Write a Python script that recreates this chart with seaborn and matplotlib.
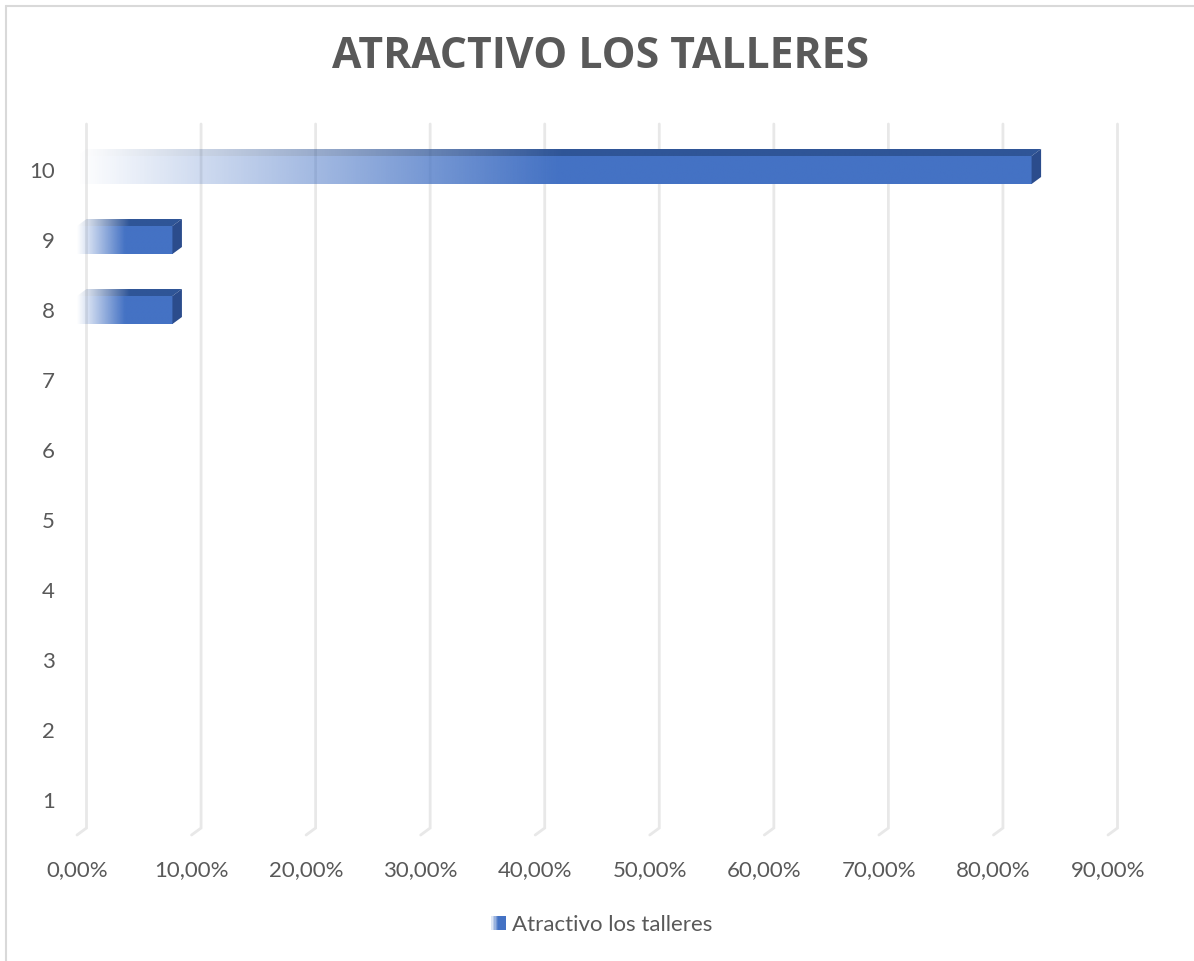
import numpy as np
import pandas as pd
import matplotlib
matplotlib.use("Agg")
import matplotlib.pyplot as plt
import seaborn as sns
from matplotlib.patches import Polygon, Rectangle
from matplotlib.lines import Line2D
from matplotlib.legend_handler import HandlerBase
from matplotlib.colors import to_rgb

# ---- data -------------------------------------------------------------
categories = ["10", "9", "8", "7", "6", "5", "4", "3", "2", "1"]
shares = [0.8333, 0.0833, 0.0833, 0.0, 0.0, 0.0, 0.0, 0.0, 0.0, 0.0]
tick_values = [0.0, 0.1, 0.2, 0.3, 0.4, 0.5, 0.6, 0.7, 0.8, 0.9]
tick_labels = ["0,00%", "10,00%", "20,00%", "30,00%", "40,00%",
               "50,00%", "60,00%", "70,00%", "80,00%", "90,00%"]
title_text = "ATRACTIVO LOS TALLERES"
series_name = "Atractivo los talleres"

# ---- style ------------------------------------------------------------
FRONT = "#4472C4"
TOP = "#2F5597"
SIDE = "#2B4C8C"
GRID = "#E8E8E8"
TEXT = "#595959"

sns.set_theme(style="white")
plt.rcParams["font.family"] = ["Lato", "DejaVu Sans"]

W, H = 1194, 961
fig = plt.figure(figsize=(W / 100, H / 100), dpi=100)
fig.patch.set_facecolor("white")

# plot area (front plane of the 3-D box)
left_px, right_px, top_px, bottom_px = 77, 1108, 135, 835
ax = fig.add_axes([left_px / W, 1 - bottom_px / H,
                   (right_px - left_px) / W, (bottom_px - top_px) / H])

df = pd.DataFrame({"categoria": categories, "porcentaje": shares})
sns.barplot(data=df, x="porcentaje", y="categoria", order=categories,
            orient="h", width=0.4, color=FRONT, ax=ax, zorder=3)

xmin, xmax = 0.0, 0.9
ax.set_xlim(xmin, xmax)
ax.set_ylim(len(categories) - 0.5, -0.5)

# depth offset of the 3-D box, converted from pixels to data units
px_per_x = (right_px - left_px) / (xmax - xmin)
px_per_y = (bottom_px - top_px) / len(categories)
ddx = 9.5 / px_per_x
ddy = -7.0 / px_per_y

# back-wall gridlines with a short floor segment towards the front
y_top = -0.5 - 11 / px_per_y
y_floor_back = len(categories) - 0.5 + ddy
y_floor_front = len(categories) - 0.5
for t in tick_values:
    ax.plot([t + ddx, t + ddx, t], [y_top, y_floor_back, y_floor_front],
            color=GRID, lw=2.0, zorder=1, clip_on=False,
            solid_joinstyle="miter")

rgb_front = np.array(to_rgb(FRONT))
rgb_top = np.array(to_rgb(TOP))


def ramp_image(rgb, n=400, frac=0.5):
    a = np.clip(np.linspace(0, 1, n) / frac, 0, 1)
    img = np.zeros((1, n, 4))
    img[..., :3] = rgb
    img[..., 3] = a
    return img


for p in list(ax.patches):
    x0, y0 = p.get_x(), p.get_y()
    w, h = p.get_width(), p.get_height()
    p.set_alpha(0)
    if w <= 0:
        continue
    # front face with a fade-in gradient
    ax.imshow(ramp_image(rgb_front), extent=[x0, x0 + w, y0 + h, y0],
              aspect="auto", interpolation="bilinear", zorder=4)
    # top face
    top_poly = Polygon([(x0, y0), (x0 + w, y0), (x0 + w + ddx, y0 + ddy),
                        (x0 + ddx, y0 + ddy)], closed=True,
                       facecolor="none", edgecolor="none")
    ax.add_patch(top_poly)
    im = ax.imshow(ramp_image(rgb_top), extent=[x0, x0 + w + ddx, y0, y0 + ddy],
                   aspect="auto", interpolation="bilinear", zorder=4)
    im.set_clip_path(top_poly)
    # right side face
    ax.add_patch(Polygon([(x0 + w, y0), (x0 + w + ddx, y0 + ddy),
                          (x0 + w + ddx, y0 + h + ddy), (x0 + w, y0 + h)],
                         closed=True, facecolor=SIDE, edgecolor="none",
                         zorder=4))

ax.set_xlim(xmin, xmax)
ax.set_ylim(len(categories) - 0.5, -0.5)

ax.set_xticks(tick_values, tick_labels)
ax.set_xlabel("")
ax.set_ylabel("")
ax.tick_params(axis="x", length=0, pad=18, labelsize=16, labelcolor=TEXT)
ax.tick_params(axis="y", length=0, pad=16, labelsize=16, labelcolor=TEXT)
for s in ax.spines.values():
    s.set_visible(False)
ax.set_facecolor("none")

# title
fig.text(600 / W, 1 - 57 / H, title_text, ha="center", va="center",
         fontsize=30.7, fontweight="bold", color=TEXT,
         family=["Open Sans", "DejaVu Sans"])


# legend with a small gradient swatch
class GradientHandler(HandlerBase):
    def create_artists(self, legend, orig_handle, xdescent, ydescent,
                       width, height, fontsize, trans):
        n = 10
        side = width
        x_start = -xdescent
        y_start = -ydescent + (height - side) / 2
        arts = []
        for i in range(n):
            a = min(1.0, (i + 1) / (n * 0.55))
            r = Rectangle((x_start + i * side / n, y_start), side / n + 0.15,
                          side, facecolor=FRONT, edgecolor="none", alpha=a,
                          transform=trans)
            arts.append(r)
        return arts


handle = Rectangle((0, 0), 1, 1)
fig.legend([handle], [series_name], handler_map={Rectangle: GradientHandler()},
           loc="center", bbox_to_anchor=(602 / W, 1 - 925 / H), frameon=False,
           fontsize=16, labelcolor=TEXT, handlelength=0.65, handletextpad=0.3)

# chart-area border (left and top edges)
fig.add_artist(Line2D([5.5 / W, 5.5 / W], [0, 1 - 6 / H], color="#D9D9D9",
                      lw=1.5, transform=fig.transFigure))
fig.add_artist(Line2D([5.5 / W, 1], [1 - 6 / H, 1 - 6 / H], color="#D9D9D9",
                      lw=1.5, transform=fig.transFigure))

fig.savefig("out.png", dpi=100, facecolor="white")
